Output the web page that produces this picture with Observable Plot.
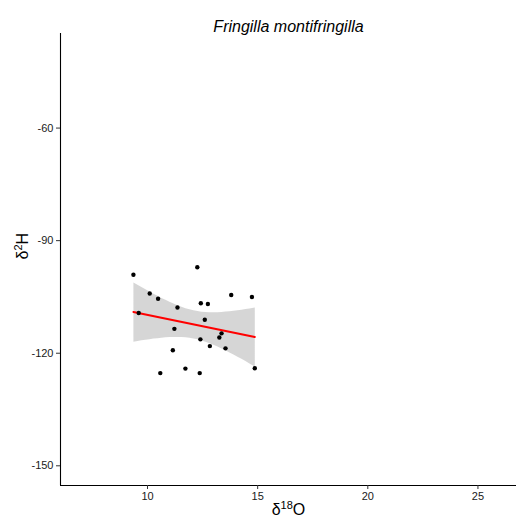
<!DOCTYPE html>
<html>
<head>
<meta charset="utf-8">
<script src="https://cdn.jsdelivr.net/npm/d3@7"></script>
<script src="https://cdn.jsdelivr.net/npm/@observablehq/plot@0.6"></script>
<style>
  body { margin: 0; background: #fff; }
  svg { font-family: "Liberation Sans", Arial, sans-serif; }
</style>
</head>
<body>
<div id="chart"></div>
<script>
const d18O = [9.36, 12.26, 10.10, 10.48, 11.36, 9.60, 12.42, 12.74, 13.80, 14.74, 12.60,
              11.22, 13.36, 13.26, 12.40, 12.83, 13.54, 11.15, 11.72, 14.87, 10.58, 12.37];
const d2H  = [-99.1, -97.1, -104.1, -105.5, -107.8, -109.3, -106.7, -106.9, -104.5, -105.0, -111.1,
              -113.5, -114.7, -115.8, -116.3, -118.1, -118.7, -119.2, -124.1, -124.0, -125.3, -125.3];
const xTicks = [10, 15, 20, 25];
const yTicks = [-60, -90, -120, -150];
const titleText = "Fringilla montifringilla";
// [base, superscript, rest]
const xLabelParts = ["δ", "18", "O"];
const yLabelParts = ["δ", "2", "H"];

const data = d18O.map((x, i) => ({x, y: d2H[i]}));
const xDomain = [6.05, 26.75];
const yDomain = [-155.25, -34.8];

const chart = Plot.plot({
  width: 516,
  height: 530,
  marginLeft: 60,
  marginRight: 0,
  marginTop: 33,
  marginBottom: 45,
  x: {domain: xDomain},
  y: {domain: yDomain},
  style: {fontFamily: '"Liberation Sans", Arial, sans-serif', background: "#fff"},
  marks: [
    Plot.linearRegressionY(data, {x: "x", y: "y", stroke: "#ff0000", strokeWidth: 2, fill: "#999999", fillOpacity: 0.4, ci: 0.95}),
    Plot.dot(data, {x: "x", y: "y", r: 2.2, fill: "black", stroke: "none"}),
    Plot.ruleX([xDomain[0]], {stroke: "black", strokeWidth: 1.1}),
    Plot.ruleY([yDomain[0]], {stroke: "black", strokeWidth: 1.1}),
    Plot.axisX({ticks: xTicks, tickSize: 4, tickPadding: 3, fontSize: 11, stroke: "#333", fill: "#1a1a1a", label: null, tickFormat: d => String(d)}),
    Plot.axisY({ticks: yTicks, tickSize: 4, tickPadding: 3, fontSize: 11, stroke: "#333", fill: "#1a1a1a", label: null, tickFormat: d => String(d)}),
    Plot.text([titleText], {frameAnchor: "top", dy: -13, fontSize: 16, fontStyle: "italic", fill: "black"}),
    Plot.text([xLabelParts.join("")], {frameAnchor: "bottom", dy: 29, fontSize: 16, fill: "black", className: "xlab"}),
    Plot.text([yLabelParts.join("")], {frameAnchor: "left", dx: -38, rotate: -90, fontSize: 16, fill: "black", className: "ylab"})
  ]
});

function superscript(sel, parts) {
  const t = chart.querySelector(sel + " text");
  if (!t) return;
  t.textContent = "";
  const ns = "http://www.w3.org/2000/svg";
  const a = document.createElementNS(ns, "tspan");
  a.textContent = parts[0];
  const b = document.createElementNS(ns, "tspan");
  b.textContent = parts[1];
  b.setAttribute("font-size", "11");
  b.setAttribute("dy", "-6");
  const c = document.createElementNS(ns, "tspan");
  c.textContent = parts[2];
  c.setAttribute("dy", "6");
  t.append(a, b, c);
}
superscript(".xlab", xLabelParts);
superscript(".ylab", yLabelParts);

document.getElementById("chart").appendChild(chart);
</script>
</body>
</html>
